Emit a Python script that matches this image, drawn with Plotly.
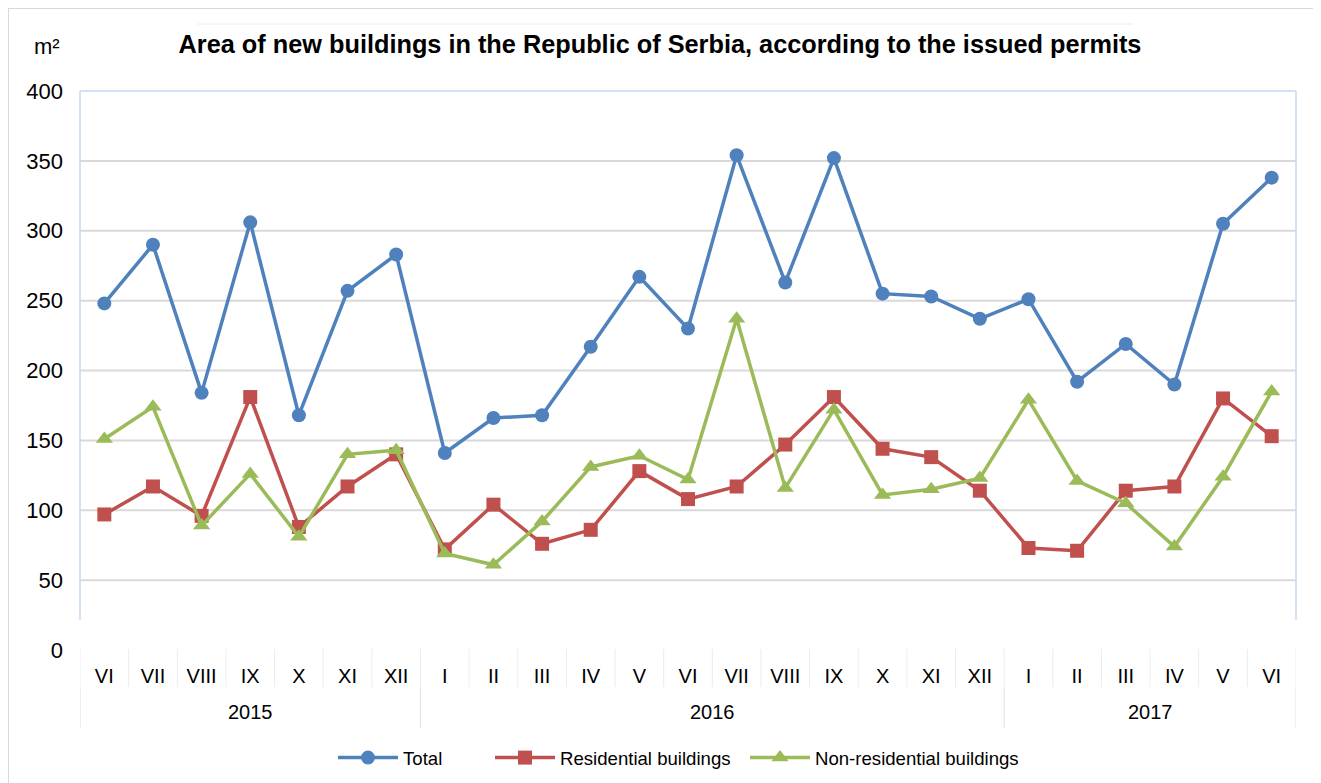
import plotly.graph_objects as go

years = ["2015"] * 7 + ["2016"] * 12 + ["2017"] * 6
months = ["VI", "VII", "VIII", "IX", "X", "XI", "XII",
          "I", "II", "III", "IV", "V", "VI", "VII", "VIII", "IX", "X", "XI", "XII",
          "I", "II", "III", "IV", "V", "VI"]

total = [248, 290, 184, 306, 168, 257, 283,
         141, 166, 168, 217, 267, 230, 354, 263, 352, 255, 253, 237,
         251, 192, 219, 190, 305, 338]
residential = [97, 117, 96, 181, 88, 117, 140,
               72, 104, 76, 86, 128, 108, 117, 147, 181, 144, 138, 114,
               73, 71, 114, 117, 180, 153]
non_residential = [151, 174, 89, 126, 81, 140, 143,
                   69, 61, 92, 131, 139, 122, 237, 116, 172, 111, 115, 123,
                   179, 121, 105, 74, 124, 185]

y_ticks = [0, 50, 100, 150, 200, 250, 300, 350, 400]

FONT = "Liberation Sans, Arial, sans-serif"
OFF = 8  # page body margin
W, H = 1321 - OFF, 783 - OFF
# plot area in page pixels: x 80..1296, y 91..650
L, R, T, B = 80 - OFF, W - (1296 - OFF), 91 - OFF, H - (650 - OFF)
PW, PH = W - L - R, H - T - B


def px(xp):
    return (xp - 80) / PW


def py(yp):
    return (650 - yp) / PH


idx = list(range(len(months)))

fig = go.Figure()
fig.add_trace(go.Scatter(
    x=idx, y=total, name="Total", mode="lines+markers",
    line=dict(color="#4f81bd", width=3.5),
    marker=dict(symbol="circle", size=14, color="#4f81bd"),
    legend="legend"))
fig.add_trace(go.Scatter(
    x=idx, y=residential, name="Residential buildings", mode="lines+markers",
    line=dict(color="#c0504d", width=3.5),
    marker=dict(symbol="square", size=14, color="#c0504d"),
    legend="legend2"))
fig.add_trace(go.Scatter(
    x=idx, y=non_residential, name="Non-residential buildings", mode="lines+markers",
    line=dict(color="#9bbb59", width=3.5),
    marker=dict(symbol="triangle-up", size=15, color="#9bbb59"),
    legend="legend3"))

shapes = []
# horizontal gridlines (not at 0 or 400)
for v in y_ticks[1:-1]:
    shapes.append(dict(type="line", xref="paper", yref="y", x0=0, x1=1, y0=v, y1=v,
                       layer="below", line=dict(color="#d9d9d9", width=2)))
# plot border (top, left, right)
shapes.append(dict(type="line", xref="paper", yref="paper", x0=0, x1=1, y0=1, y1=1,
                   line=dict(color="#c6d9f1", width=1.5)))
for xx in (0, 1):
    shapes.append(dict(type="line", xref="paper", yref="paper", x0=xx, x1=xx,
                       y0=py(620), y1=1, line=dict(color="#c6d9f1", width=1.5)))
# month separators
for i in range(len(months) + 1):
    shapes.append(dict(type="line", xref="x", yref="paper", x0=i - 0.5, x1=i - 0.5,
                       y0=py(649), y1=py(687), line=dict(color="#ececec", width=1)))
# year dividers and year labels
annotations = []
groups = []
for i, yv in enumerate(years):
    if not groups or groups[-1][0] != yv:
        groups.append([yv, i, i])
    else:
        groups[-1][2] = i
for g in groups:
    annotations.append(dict(text=g[0], xref="x", yref="paper", x=(g[1] + g[2]) / 2,
                            y=py(712), xanchor="center", yanchor="middle", showarrow=False,
                            font=dict(family=FONT, size=20, color="#000000")))
bounds = [g[1] - 0.5 for g in groups] + [groups[-1][2] + 0.5]
for b in bounds:
    shapes.append(dict(type="line", xref="x", yref="paper", x0=b, x1=b,
                       y0=py(687), y1=py(728), line=dict(color="#e0e0e0", width=1)))
# outer chart border and title box line
shapes += [
    dict(type="line", xref="paper", yref="paper", x0=px(OFF), x1=px(1321), y0=py(OFF + 0.5), y1=py(OFF + 0.5),
         line=dict(color="#d9d9d9", width=1)),
    dict(type="line", xref="paper", yref="paper", x0=px(OFF + 0.5), x1=px(OFF + 0.5), y0=py(OFF), y1=py(783),
         line=dict(color="#d9d9d9", width=1)),
    dict(type="line", xref="paper", yref="paper", x0=px(197), x1=px(1133), y0=py(24), y1=py(24),
         line=dict(color="#ececec", width=1)),
]
annotations.append(dict(text="m²", xref="paper", yref="paper", x=px(62), y=py(46),
                        xanchor="right", yanchor="middle", showarrow=False,
                        font=dict(family=FONT, size=22, color="#000000")))

legend_common = dict(orientation="h", yanchor="middle", xanchor="left",
                     font=dict(family=FONT, size=18.6, color="#000000"),
                     bgcolor="rgba(0,0,0,0)", borderwidth=0, itemwidth=60)

fig.update_layout(
    width=W, height=H,
    margin=dict(l=L, r=R, t=T, b=B, autoexpand=False),
    paper_bgcolor="white", plot_bgcolor="white",
    font=dict(family=FONT, size=18, color="#000000"),
    title=dict(text="<b>Area of new buildings in the Republic of Serbia, according to the issued permits</b>",
               x=(660 - OFF) / W, xref="container", xanchor="center",
               y=1 - (44 - OFF) / H, yref="container", yanchor="middle",
               font=dict(family=FONT, size=25.3, color="#000000")),
    xaxis=dict(range=[-0.5, len(months) - 0.5], tickvals=idx, ticktext=months,
               showgrid=False, showline=False, zeroline=False, ticks="",
               ticklabelstandoff=12, automargin=False,
               tickfont=dict(family=FONT, size=20, color="#000000")),
    yaxis=dict(range=[0, 400], tickvals=y_ticks, showgrid=False, zeroline=False,
               showline=False, ticks="", ticklabelstandoff=16, automargin=False,
               tickfont=dict(family=FONT, size=22, color="#000000")),
    legend=dict(x=px(333), y=py(758), **legend_common),
    legend2=dict(x=px(490), y=py(758), **legend_common),
    legend3=dict(x=px(745), y=py(758), **legend_common),
    showlegend=True,
    annotations=annotations,
    shapes=shapes,
)

fig.write_html("out.html")
